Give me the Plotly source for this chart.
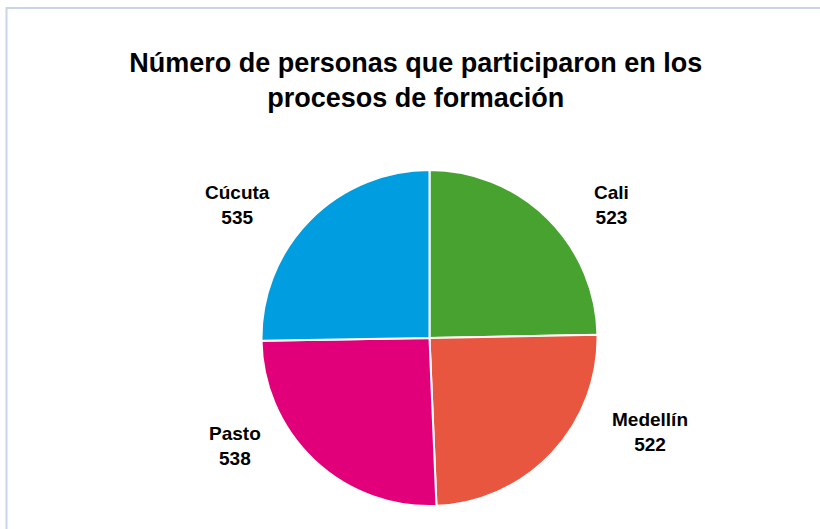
import plotly.graph_objects as go

# data
ciudades = ["Cali", "Medellín", "Pasto", "Cúcuta"]
personas = [523, 522, 538, 535]
colores = ["#48a22f", "#e85640", "#e2007a", "#009ee0"]

titulo = "Número de personas que participaron en los<br>procesos de formación"

# where each city's label sits (paper coords), same order as ciudades
label_pos = [(1.0415, 0.896), (1.154, 0.220), (-0.077, 0.179), (-0.0712, 0.896)]

fig = go.Figure()

fig.add_trace(
    go.Pie(
        labels=ciudades,
        values=personas,
        sort=False,
        direction="clockwise",
        rotation=0,
        marker=dict(
            colors=colores,
            line=dict(color="white", width=2),
        ),
        textinfo="none",
        hoverinfo="label+value",
        showlegend=False,
    )
)

for ciudad, valor, (px, py) in zip(ciudades, personas, label_pos):
    fig.add_annotation(
        text=f"{ciudad}<br>{valor}",
        x=px,
        y=py,
        xref="paper",
        yref="paper",
        xanchor="center",
        yanchor="middle",
        showarrow=False,
        align="center",
        font=dict(family="Liberation Sans, Arial, sans-serif", size=19, color="black", weight="bold"),
    )

fig.update_layout(
    width=820,
    height=529,
    paper_bgcolor="white",
    plot_bgcolor="white",
    margin=dict(l=261, r=222, t=170, b=23),
    title=dict(
        text=titulo,
        x=0.507,
        xref="container",
        xanchor="center",
        y=0.864,
        yref="container",
        yanchor="middle",
        font=dict(family="Liberation Sans, Arial, sans-serif", size=27, color="black", weight="bold"),
    ),
)

# light frame around the chart
fig.add_shape(
    type="path",
    xref="paper",
    yref="paper",
    path="M -0.7552,-0.1 L -0.7552,1.482 L 1.75,1.482",
    line=dict(color="#c9d5e8", width=2),
)

# drop the default page margin so the figure fills the window
fig.write_html(
    "out.html",
    config={"displayModeBar": False},
    post_script="document.body.style.margin='0';",
)
